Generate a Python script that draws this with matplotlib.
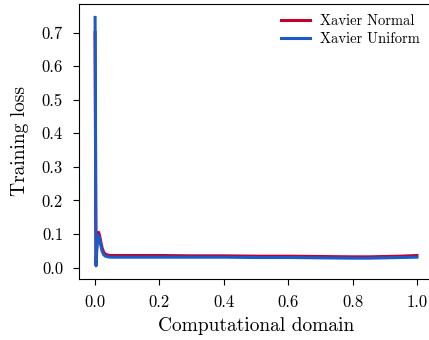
import matplotlib
matplotlib.use('Agg')
import matplotlib.pyplot as plt

# estilo parecido com LaTeX (Computer Modern)
plt.rcParams['font.family'] = 'serif'
plt.rcParams['font.serif'] = ['cmr10']
plt.rcParams['mathtext.fontset'] = 'cm'
plt.rcParams['axes.formatter.use_mathtext'] = True

# dominio computacional
x = [0.0, 0.001, 0.002, 0.003, 0.005, 0.008, 0.011, 0.014, 0.018, 0.022,
     0.027, 0.032, 0.04, 0.05, 0.07, 0.1, 0.2, 0.3, 0.4, 0.5, 0.6, 0.7,
     0.8, 0.85, 0.9, 0.95, 1.0]

# perda de treino - Xavier Normal
loss_normal = [0.70, 0.45, 0.15, 0.01, 0.06, 0.10, 0.105, 0.095, 0.075, 0.058,
               0.045, 0.040, 0.037, 0.036, 0.036, 0.036, 0.036, 0.035, 0.035, 0.034,
               0.034, 0.033, 0.032, 0.032, 0.033, 0.034, 0.036]

# perda de treino - Xavier Uniform
loss_uniform = [0.745, 0.50, 0.20, 0.005, 0.05, 0.09, 0.095, 0.085, 0.065, 0.048,
                0.038, 0.034, 0.032, 0.031, 0.031, 0.031, 0.031, 0.031, 0.031, 0.030,
                0.030, 0.029, 0.028, 0.028, 0.029, 0.030, 0.031]

fig = plt.figure(figsize=(4.29, 3.40), dpi=100)
ax = fig.add_axes([79/429, 61/340, 354/429, 275/340])

ax.plot(x, loss_normal, color='#c4002f', lw=2.2, label='Xavier Normal')
ax.plot(x, loss_uniform, color='#1a5bc8', lw=2.2, label='Xavier Uniform')

ax.set_xlim(-0.05, 1.05)
ax.set_ylim(-0.034, 0.785)
ax.set_xticks([0.0, 0.2, 0.4, 0.6, 0.8, 1.0])
ax.set_yticks([0.0, 0.1, 0.2, 0.3, 0.4, 0.5, 0.6, 0.7])
ax.set_xticklabels(['0.0', '0.2', '0.4', '0.6', '0.8', '1.0'])
ax.set_yticklabels(['0.0', '0.1', '0.2', '0.3', '0.4', '0.5', '0.6', '0.7'])
ax.tick_params(labelsize=12, length=4.5, width=0.8, pad=7)

ax.set_xlabel('Computational domain', fontsize=14, labelpad=5)
ax.set_ylabel('Training loss', fontsize=14, labelpad=9)

ax.legend(loc='upper right', frameon=False, fontsize=10.5, bbox_to_anchor=(1.0, 1.01),
          handlelength=2.0, handletextpad=0.7, labelspacing=0.3)

fig.savefig('out.png', dpi=100)
